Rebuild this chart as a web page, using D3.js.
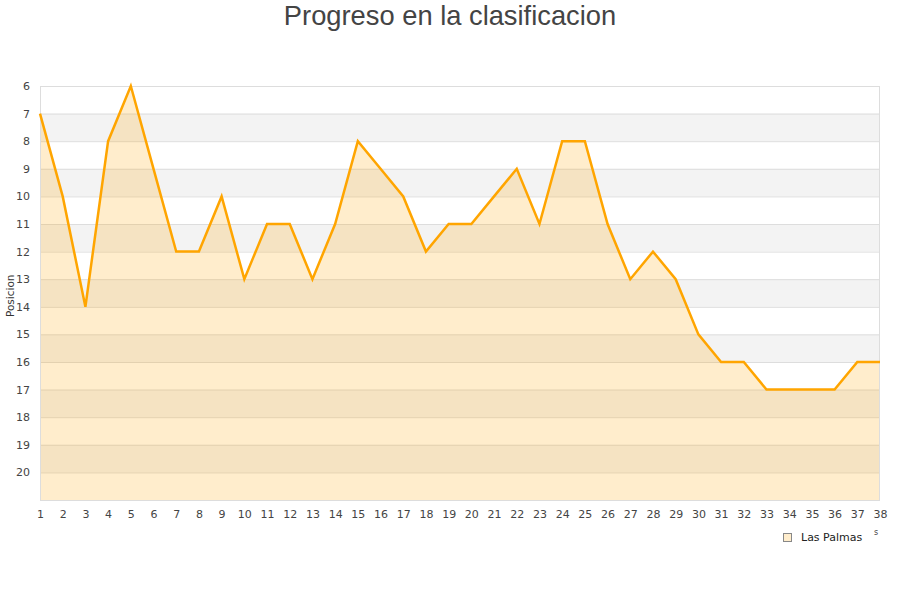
<!DOCTYPE html>
<html>
<head>
<meta charset="utf-8">
<script src="https://cdn.jsdelivr.net/npm/d3@7"></script>
<style>
  body { margin: 0; background: #fff; }
  text { font-family: "DejaVu Sans", sans-serif; }
</style>
</head>
<body>
<div id="chart"></div>
<script>
// Jornadas and positions
const jornadas = d3.range(1, 39);
const posiciones = [7, 10, 14, 8, 6, 9, 12, 12, 10, 13, 11, 11, 13, 11, 8, 9, 10, 12, 11, 11,
                    10, 9, 11, 8, 8, 11, 13, 12, 13, 15, 16, 16, 17, 17, 17, 17, 16, 16];
const yTicks = d3.range(6, 21);
const equipo = "Las Palmas";

const width = 900, height = 600;
const margin = { top: 86, right: 20, bottom: 100, left: 40 };

const svg = d3.select("#chart").append("svg")
    .attr("width", width)
    .attr("height", height);

const x = d3.scaleLinear()
    .domain([1, 38])
    .range([margin.left, width - margin.right]);

const y = d3.scaleLinear()
    .domain([6, 21])
    .range([margin.top, height - margin.bottom]);

// Alternating bands
svg.append("g")
    .selectAll("rect")
    .data(d3.range(6, 21))
    .join("rect")
    .attr("x", margin.left)
    .attr("width", x(38) - x(1))
    .attr("y", d => y(d))
    .attr("height", d => y(d + 1) - y(d))
    .attr("fill", d => d % 2 === 1 ? "#f3f3f3" : "#fff");

// Grid lines
svg.append("g")
    .selectAll("line")
    .data(yTicks)
    .join("line")
    .attr("x1", margin.left)
    .attr("x2", x(38))
    .attr("y1", d => y(d) + 0.5)
    .attr("y2", d => y(d) + 0.5)
    .attr("stroke", "#dddddd");

// Area under the line
const area = d3.area()
    .x((d, i) => x(jornadas[i]))
    .y0(y(21))
    .y1(d => y(d));

svg.append("path")
    .datum(posiciones)
    .attr("d", area)
    .attr("fill", "rgba(255,165,0,0.2)");

// Frame
svg.append("rect")
    .attr("x", margin.left + 0.5)
    .attr("y", margin.top + 0.5)
    .attr("width", x(38) - x(1) - 1)
    .attr("height", y(21) - y(6))
    .attr("fill", "none")
    .attr("stroke", "#dddddd");

// Line
const line = d3.line()
    .x((d, i) => x(jornadas[i]))
    .y(d => y(d));

svg.append("path")
    .datum(posiciones)
    .attr("d", line)
    .attr("fill", "none")
    .attr("stroke", "#ffa500")
    .attr("stroke-width", 2.5)
    .attr("stroke-linejoin", "miter");

// Y axis
const yAxis = d3.axisLeft(y).tickValues(yTicks).tickSize(0).tickPadding(10);
svg.append("g")
    .attr("transform", `translate(${margin.left},0)`)
    .call(yAxis)
    .call(g => g.select(".domain").remove())
    .selectAll("text")
    .attr("font-size", 11)
    .attr("fill", "#444");

// X axis
const xAxis = d3.axisBottom(x).tickValues(jornadas).tickSize(0).tickPadding(10);
svg.append("g")
    .attr("transform", `translate(0,${y(21)})`)
    .call(xAxis)
    .call(g => g.select(".domain").remove())
    .selectAll("text")
    .attr("font-size", 11)
    .attr("fill", "#444");

// Y label
svg.append("text")
    .attr("transform", `translate(14,${y(13.6)}) rotate(-90)`)
    .attr("text-anchor", "middle")
    .attr("font-size", 10.5)
    .attr("fill", "#333")
    .text("Posicion");

// Title
svg.append("text")
    .attr("x", width / 2)
    .attr("y", 25)
    .attr("text-anchor", "middle")
    .attr("font-size", 27.3)
    .attr("fill", "#444")
    .style("font-family", "'Liberation Sans', Arial, sans-serif")
    .text("Progreso en la clasificacion");

// Legend
const legend = svg.append("g").attr("transform", "translate(783,533)");
legend.append("rect")
    .attr("width", 8)
    .attr("height", 8)
    .attr("x", 0.5)
    .attr("y", 0.5)
    .attr("fill", "#ffedcc")
    .attr("stroke", "#888");
legend.append("text")
    .attr("x", 18)
    .attr("y", 8)
    .attr("font-size", 11)
    .attr("fill", "#222")
    .text(equipo);
legend.append("text")
    .attr("x", 91)
    .attr("y", 2)
    .attr("font-size", 8)
    .attr("fill", "#444")
    .text("s");
</script>
</body>
</html>
